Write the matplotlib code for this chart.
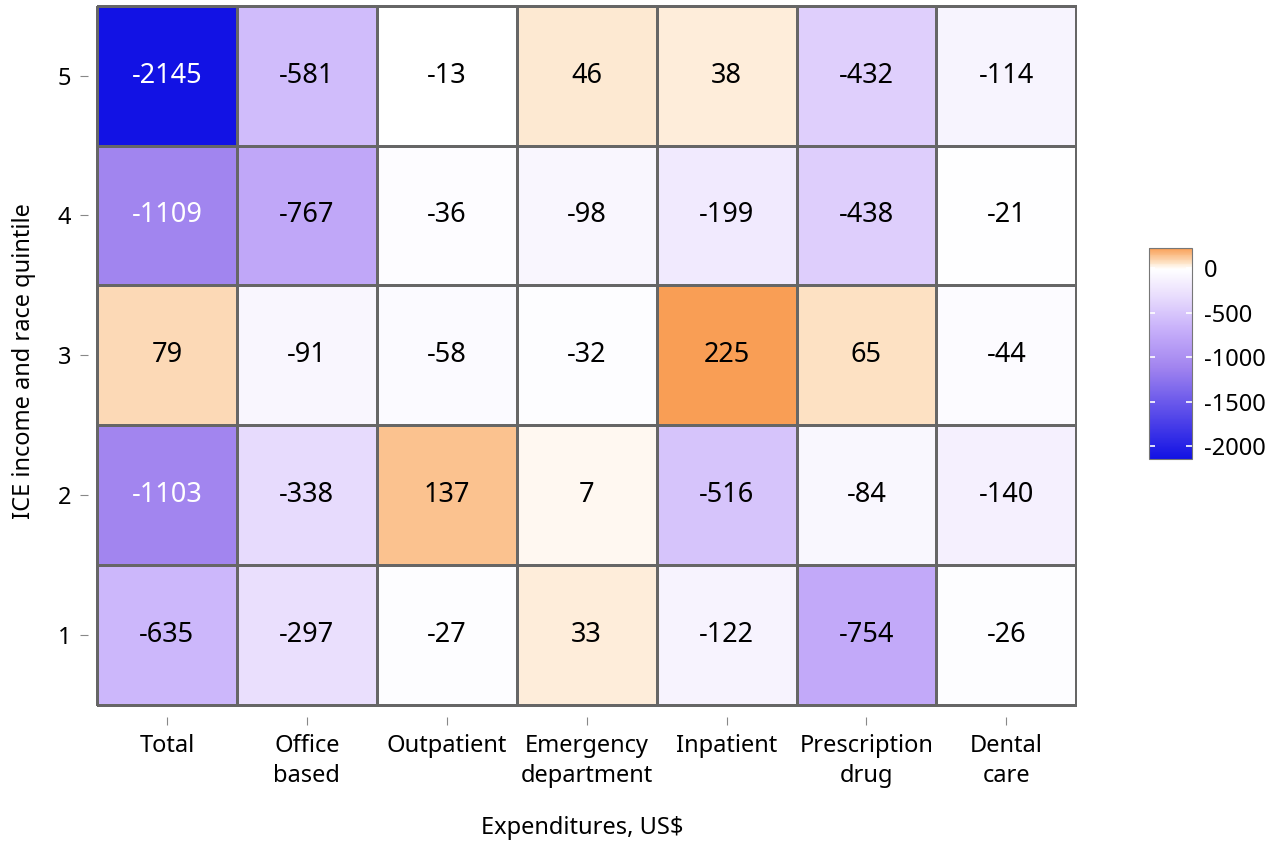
import numpy as np
import matplotlib
matplotlib.use("Agg")
import matplotlib.pyplot as plt
from matplotlib.colors import LinearSegmentedColormap, Normalize

plt.rcParams['font.family'] = ['Noto Sans', 'DejaVu Sans']
plt.rcParams['axes.unicode_minus'] = False

# kategoriler (x ekseni) ve quintile'lar (y ekseni)
categories = ["Total", "Office\nbased", "Outpatient", "Emergency\ndepartment",
              "Inpatient", "Prescription\ndrug", "Dental\ncare"]
quintiles = [1, 2, 3, 4, 5]

# harcama farklari, satirlar quintile 1..5
q1 = [-635, -297, -27, 33, -122, -754, -26]
q2 = [-1103, -338, 137, 7, -516, -84, -140]
q3 = [79, -91, -58, -32, 225, 65, -44]
q4 = [-1109, -767, -36, -98, -199, -438, -21]
q5 = [-2145, -581, -13, 46, 38, -432, -114]
values = np.array([q1, q2, q3, q4, q5])

cbar_ticks = [0, -500, -1000, -1500, -2000]

vmin, vmax = values.min(), values.max()

# renk skalasi: mavi -> mor -> beyaz (0) -> turuncu
stops = [(-2145, "#1212E4"), (-1109, "#A285EF"), (-700, "#C6AEFA"),
         (-297, "#EADFFD"), (-5, "#FFFFFF"), (65, "#FDE2C4"), (225, "#F99E55")]
cmap = LinearSegmentedColormap.from_list(
    "div", [((v - vmin) / (vmax - vmin), c) for v, c in stops])
norm = Normalize(vmin=vmin, vmax=vmax)

fig = plt.figure(figsize=(12.8, 8.51), dpi=100)
ax = fig.add_axes([0.06875, 0.1575, 0.7727, 0.8366])

mesh = ax.pcolormesh(np.arange(8) - 0.5, np.arange(6) - 0.5, values,
                     cmap=cmap, norm=norm, edgecolor="#666666", linewidth=0.8)

for i in range(values.shape[0]):
    for j in range(values.shape[1]):
        v = values[i, j]
        col = "white" if v < -1000 else "black"
        ax.text(j, i, str(v), ha="center", va="center", fontsize=19.5, color=col)

ax.set_xlim(-0.5 - 0.064, 6.5 + 0.005)
ax.set_ylim(-0.5 - 0.086, 4.5 + 0.005)
for s in ax.spines.values():
    s.set_visible(False)

ax.set_xticks(range(len(categories)))
ax.set_xticklabels(categories, fontsize=17, linespacing=1.35)
ax.set_yticks(range(len(quintiles)))
ax.set_yticklabels([str(q) for q in quintiles], fontsize=17)
ax.tick_params(length=6, width=0.8, color="#888888", pad=6)

ax.set_xlabel("Expenditures, US$", fontsize=17, labelpad=20)
ax.set_ylabel("ICE income and race quintile", fontsize=17, labelpad=16)

# renk cubugu
cax = fig.add_axes([0.898, 0.4606, 0.0336, 0.248])
cbar = fig.colorbar(mesh, cax=cax, ticks=cbar_ticks)
cbar.ax.tick_params(direction="in", color="white", length=4, width=1.2,
                    left=True, right=True, labelsize=17, labelcolor="black", pad=8)
cbar.outline.set_edgecolor("#777777")
cbar.outline.set_linewidth(0.8)

fig.savefig("out.png", dpi=100)
